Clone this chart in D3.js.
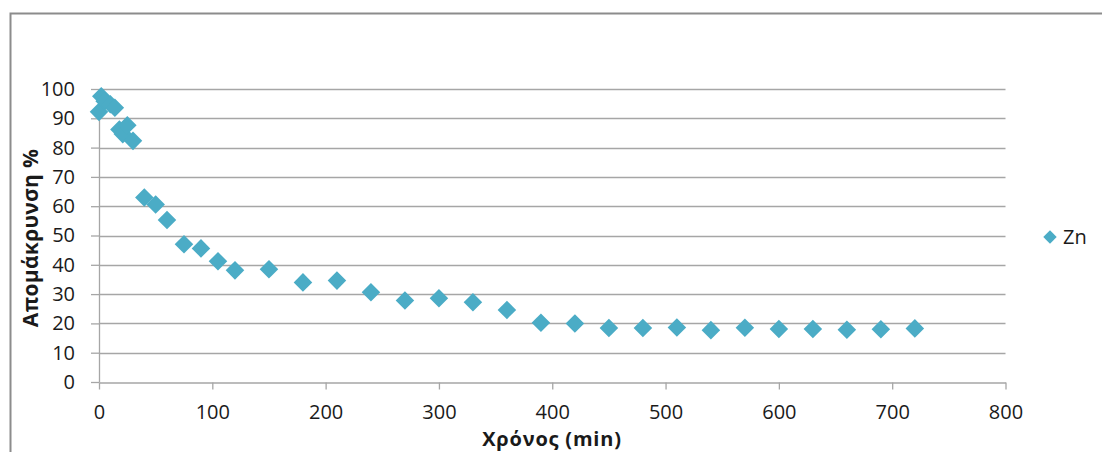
<!DOCTYPE html>
<html>
<head>
<meta charset="utf-8">
<script src="https://cdn.jsdelivr.net/npm/d3@7"></script>
<style>
  html, body { margin: 0; padding: 0; background: #ffffff; }
  svg { display: block; }
</style>
</head>
<body>
<svg id="chart" width="1102" height="452"></svg>
<script>
// Zn removal over time
const timeMin = [0, 2, 5, 10, 14, 18, 21, 25, 30, 40, 50, 60, 75, 90, 105, 120, 150, 180, 210, 240, 270, 300, 330, 360, 390, 420, 450, 480, 510, 540, 570, 600, 630, 660, 690, 720];
const removalPct = [92.2, 97.5, 95.8, 94.8, 93.6, 86.2, 84.6, 87.6, 82.3, 63.0, 60.6, 55.3, 47.0, 45.6, 41.2, 38.1, 38.5, 34.0, 34.6, 30.6, 27.8, 28.6, 27.2, 24.6, 20.2, 20.0, 18.4, 18.4, 18.6, 17.7, 18.5, 18.1, 18.1, 17.8, 18.0, 18.3];
const xTicks = [0, 100, 200, 300, 400, 500, 600, 700, 800];
const yTicks = [0, 10, 20, 30, 40, 50, 60, 70, 80, 90, 100];
const seriesName = "Zn";
const xTitle = "Χρόνος (min)";
const yTitle = "Απομάκρυνση %";

const svg = d3.select("#chart");
const font = "'Open Sans', 'Liberation Sans', sans-serif";
const markColor = "#4bacc6";
const gridColor = "#a6a6a6";

// outer chart frame
svg.append("rect")
  .attr("x", 10.5).attr("y", 13.5)
  .attr("width", 1110).attr("height", 460)
  .attr("fill", "#ffffff")
  .attr("stroke", "#8c8c8c")
  .attr("stroke-width", 2);

const x = d3.scaleLinear().domain([0, 800]).range([99, 1005.5]);
const y = d3.scaleLinear().domain([0, 100]).range([382, 89]);

// horizontal gridlines
svg.append("g")
  .selectAll("line")
  .data(yTicks.filter(v => v > 0))
  .join("line")
  .attr("x1", x(0)).attr("x2", x(800))
  .attr("y1", d => Math.round(y(d)) + 0.5).attr("y2", d => Math.round(y(d)) + 0.5)
  .attr("stroke", gridColor).attr("stroke-width", 1.3);

// y axis
const yAxis = svg.append("g")
  .attr("transform", `translate(${x(0)},0)`)
  .call(d3.axisLeft(y).tickValues(yTicks).tickSize(8).tickPadding(16).tickSizeOuter(0));
yAxis.select(".domain").attr("stroke", gridColor).attr("stroke-width", 1.3);
yAxis.selectAll(".tick line").attr("stroke", gridColor).attr("stroke-width", 1.3);
yAxis.selectAll(".tick text")
  .attr("font-family", font).attr("font-size", 20).attr("fill", "#1a1a1a");

// x axis
const xAxis = svg.append("g")
  .attr("transform", `translate(0,${Math.round(y(0)) + 0.5})`)
  .call(d3.axisBottom(x).tickValues(xTicks).tickSize(7).tickPadding(15).tickSizeOuter(0));
xAxis.select(".domain").attr("stroke", gridColor).attr("stroke-width", 1.3);
xAxis.selectAll(".tick line").attr("stroke", gridColor).attr("stroke-width", 1.3);
xAxis.selectAll(".tick text")
  .attr("font-family", font).attr("font-size", 20).attr("fill", "#1a1a1a");

// diamond markers
const diamond = d3.symbol().type(d3.symbolSquare).size(172);
svg.append("g")
  .selectAll("path")
  .data(timeMin.map((t, i) => ({ t, v: removalPct[i] })))
  .join("path")
  .attr("d", diamond)
  .attr("transform", d => `translate(${x(d.t)},${y(d.v)}) rotate(45)`)
  .attr("fill", markColor);

// axis titles
svg.append("text")
  .attr("transform", `translate(38,238) rotate(-90)`)
  .attr("text-anchor", "middle")
  .attr("font-family", font).attr("font-size", 21).attr("font-weight", "bold")
  .attr("letter-spacing", 0.3)
  .attr("fill", "#1a1a1a")
  .text(yTitle);

svg.append("text")
  .attr("x", 552).attr("y", 446)
  .attr("text-anchor", "middle")
  .attr("font-family", font).attr("font-size", 20).attr("font-weight", "bold")
  .attr("letter-spacing", 0.8)
  .attr("fill", "#1a1a1a")
  .text(xTitle);

// legend
const legend = svg.append("g").attr("transform", "translate(1050,237)");
legend.append("path")
  .attr("d", d3.symbol().type(d3.symbolSquare).size(90))
  .attr("transform", "rotate(45)")
  .attr("fill", markColor);
legend.append("text")
  .attr("x", 13).attr("y", 7)
  .attr("font-family", font).attr("font-size", 20).attr("fill", "#1a1a1a")
  .text(seriesName);
</script>
</body>
</html>
